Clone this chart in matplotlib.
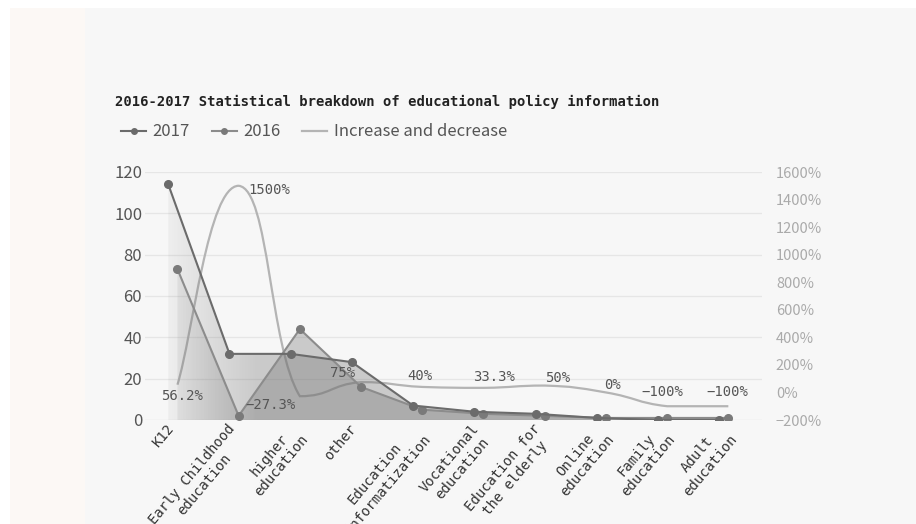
import numpy as np
import matplotlib.pyplot as plt
from matplotlib.patches import Polygon, Rectangle, PathPatch
from matplotlib.path import Path
from matplotlib.lines import Line2D
from matplotlib.transforms import ScaledTranslation

plt.rcParams['font.family'] = ['Noto Sans CJK SC', 'DejaVu Sans']
MONO = ['DejaVu Sans Mono', 'DejaVu Sans']

categories = ["K12", "Early Childhood\neducation", "higher\neducation", "other",
              "Education\nInformatization", "Vocational\neducation",
              "Education for\nthe elderly", "Online\neducation",
              "Family\neducation", "Adult\neducation"]
counts_2017 = [114, 32, 32, 28, 7, 4, 3, 1, 0, 0]
counts_2016 = [73, 2, 44, 16, 5, 3, 2, 1, 1, 1]
change_pct = [56.2, 1500, -27.3, 75, 40, 33.3, 50, 0, -100, -100]
change_text = ["56.2%", "1500%", "\u221227.3%", "75%", "40%", "33.3%", "50%", "0%",
               "\u2212100%", "\u2212100%"]
# where each percentage label sits relative to its point (pixels)
label_offsets = [(5, -11), (31, -4), (-29, -9), (-19, 9), (-2, 11),
                 (11, 11), (13, 8), (7, 7), (-5, 14), (-1, 14)]

C2017 = '#6b6b6b'
C2016 = '#8c8c8c'
CINC = '#b4b4b4'
BG = '#f7f7f7'

W, H = 916, 524
fig = plt.figure(figsize=(W / 100, H / 100), dpi=100)
fig.patch.set_facecolor('white')
fig.patches.append(Rectangle((10 / W, 0), 75 / W, 1 - 8 / H, transform=fig.transFigure,
                             facecolor='#fcf8f5', edgecolor='none', zorder=-10))
fig.patches.append(Rectangle((85 / W, 0), 1 - 85 / W, 1 - 8 / H, transform=fig.transFigure,
                             facecolor=BG, edgecolor='none', zorder=-10))

left, right, bottom, top = 145, 762, 420, 172
ax = fig.add_axes([left / W, 1 - bottom / H, (right - left) / W, (bottom - top) / H])
ax.set_facecolor('none')
ax2 = ax.twinx()

x = np.arange(len(categories))
x17 = x - 0.15
XL = (-0.53, 9.55)

# percent axis: -200%..1600% shares the 0..120 span of the count axis
def pct_to_left(p):
    return (np.asarray(p, dtype=float) + 200) / 15.0

# gridlines
for v in range(20, 121, 20):
    ax.axhline(v, color='#e6e6e6', lw=0.9, zorder=0)
ax.axhline(0, color='#dcdcdc', lw=0.9, zorder=0)

# smoothed change curve, control points kept inside each segment's range
def smooth_path(xs, ys, k=0.25):
    pts = np.column_stack([xs, ys]).astype(float)
    n = len(pts)
    verts = [pts[0]]
    codes = [Path.MOVETO]
    for i in range(n - 1):
        p0 = pts[max(i - 1, 0)]
        p1 = pts[i]
        p2 = pts[i + 1]
        p3 = pts[min(i + 2, n - 1)]
        lo, hi = min(p1[1], p2[1]), max(p1[1], p2[1])
        c1 = p1 + (p2 - p0) * k
        c2 = p2 - (p3 - p1) * k
        c1[1] = np.clip(c1[1], lo, hi)
        c2[1] = np.clip(c2[1], lo, hi)
        verts += [c1, c2, p2]
        codes += [Path.CURVE4] * 3
    return Path(verts, codes)

inc_y = pct_to_left(change_pct)
ax.add_patch(PathPatch(smooth_path(x, inc_y), facecolor='none', edgecolor=CINC,
                       lw=1.6, zorder=1))

# faded area fills under both series
alpha_ramp = np.clip((np.linspace(XL[0], XL[1], 400) - XL[0]) / (1.3 - XL[0]), 0, 1) * 0.34
rgba = np.zeros((1, 400, 4))
rgba[..., :3] = 0.45
rgba[..., 3] = alpha_ramp
for xs, ys in [(x17, counts_2017), (x, counts_2016)]:
    verts = [(xs[0], 0)] + list(zip(xs, ys)) + [(xs[-1], 0)]
    poly = Polygon(verts, closed=True, facecolor='none', edgecolor='none')
    ax.add_patch(poly)
    im = ax.imshow(rgba, extent=(XL[0], XL[1], 0, 120), aspect='auto',
                   interpolation='bilinear', zorder=2)
    im.set_clip_path(poly)

ax.plot(x17, counts_2017, color=C2017, lw=1.5, marker='o', ms=5.5, zorder=4)
ax.plot(x, counts_2016, color=C2016, lw=1.5, marker='o', ms=5.5,
        mfc='#7a7a7a', mec='#7a7a7a', zorder=3)

for xi, yi, t, (dx, dy) in zip(x, inc_y, change_text, label_offsets):
    ax.annotate(t, (xi, yi), xytext=(dx, dy), textcoords='offset pixels',
                ha='center', va='center', fontsize=10, family=MONO,
                color='#555555', zorder=6)

ax.set_xlim(*XL)
ax.set_ylim(0, 120)
ax.set_yticks(range(0, 121, 20))
ax.tick_params(axis='y', length=0, labelsize=12, labelcolor='#555555', pad=2)
ax.set_xticks(x)
ax.set_xticklabels(categories, rotation=50, ha='right', va='top',
                   rotation_mode='anchor', multialignment='center',
                   fontsize=10, family=MONO, color='#333333')
ax.tick_params(axis='x', length=0, pad=1)
shift = ScaledTranslation(-12 / 100, 0, fig.dpi_scale_trans)
for lbl in ax.get_xticklabels():
    lbl.set_transform(lbl.get_transform() + shift)

ax2.set_ylim(-200, 1600)
ax2.set_yticks(range(-200, 1601, 200))
ax2.set_yticklabels([f"{v}%".replace('-', '\u2212') for v in range(-200, 1601, 200)])
ax2.tick_params(axis='y', length=0, labelsize=10.5, labelcolor='#aaaaaa', pad=10)

for a in (ax, ax2):
    for s in a.spines.values():
        s.set_visible(False)

fig.text(115 / W, 1 - 102 / H,
         "2016-2017 Statistical breakdown of educational policy information",
         fontsize=10, fontweight='bold', family=MONO, color='#222222',
         va='center', ha='left')

handles = [Line2D([], [], color=C2017, lw=1.5, marker='o', ms=4),
           Line2D([], [], color=C2016, lw=1.5, marker='o', ms=4, mfc='#7a7a7a', mec='#7a7a7a'),
           Line2D([], [], color=CINC, lw=1.6)]
fig.legend(handles, ["2017", "2016", "Increase and decrease"], ncol=3, frameon=False,
           loc='center left', bbox_to_anchor=(106 / W, 1 - 132 / H),
           fontsize=12, labelcolor='#555555', handlelength=1.5,
           handletextpad=0.4, columnspacing=1.3)

fig.savefig('out.png', dpi=100, facecolor=fig.get_facecolor())
